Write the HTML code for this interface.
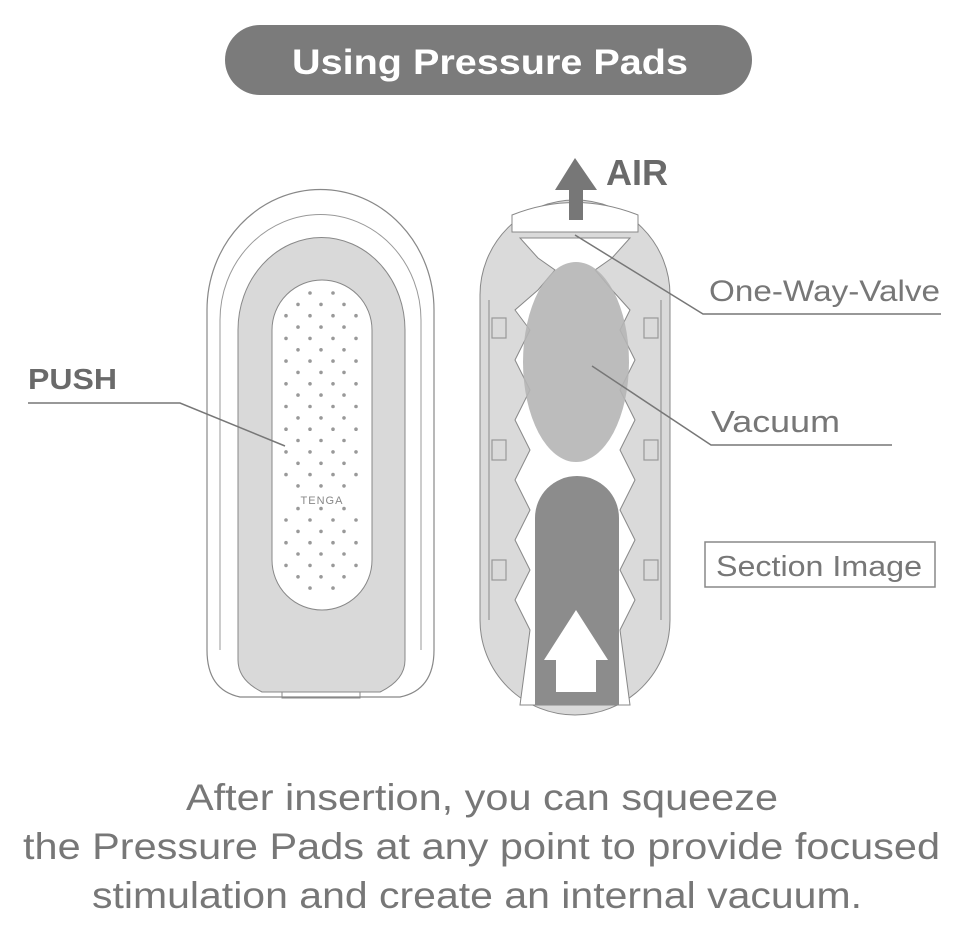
<!DOCTYPE html>
<html><head><meta charset="utf-8"><style>
html,body{margin:0;padding:0;background:#fff;width:966px;height:936px;overflow:hidden}
svg{display:block}
text{font-family:"Liberation Sans",sans-serif}
</style></head><body>
<svg id="s" width="966" height="936" viewBox="0 0 966 936" xmlns="http://www.w3.org/2000/svg">
<rect x="225" y="25" width="527" height="70" rx="35" fill="#7b7b7b"/>
<text x="292" y="74" font-size="35" font-weight="bold" fill="#fff" textLength="396" lengthAdjust="spacingAndGlyphs">Using Pressure Pads</text>

<!-- left device -->
<path d="M207,310 A113,120 0 0 1 434,310 L434,650 Q434,690 400,697 L240,697 Q207,690 207,650 Z" fill="#fff" stroke="#888" stroke-width="1.2"/>
<path d="M220,320 A100,105 0 0 1 421,320 L421,650" fill="none" stroke="#999" stroke-width="1"/>
<path d="M220,320 L220,650" fill="none" stroke="#999" stroke-width="1"/>
<path d="M238,330 A83,92 0 0 1 405,330 L405,660 Q405,680 380,692 L262,692 Q238,680 238,660 Z" fill="#d9d9d9" stroke="#888" stroke-width="1"/>
<path d="M282,692 L282,698 L360,698 L360,692" fill="none" stroke="#888"/>
<rect x="272" y="280" width="100" height="330" rx="50" fill="#fff" stroke="#888" stroke-width="1"/>
<g id="dots" fill="#999"></g>
<text x="322" y="504" text-anchor="middle" font-size="11" fill="#888" letter-spacing="1">TENGA</text>

<!-- PUSH -->
<text x="28" y="389" font-size="29" font-weight="bold" fill="#6a6a6a" textLength="89" lengthAdjust="spacingAndGlyphs">PUSH</text>
<polyline points="28,403 180,403 285,446" fill="none" stroke="#777" stroke-width="1.5"/>

<!-- right section -->
<path d="M480,295 A95,95 0 0 1 670,295 L670,620 A95,95 0 0 1 480,620 Z" fill="#dadada" stroke="#888" stroke-width="1"/>
<path d="M512,215 Q575,190 638,215 L638,232 L512,232 Z" fill="#fff" stroke="#888"/>
<path d="M520,238 L630,238 L612,258 L595,270 L612,290 L630,310 L620,330 L635,360 L620,390 L635,420 L620,450 L635,480 L620,510 L635,540 L620,570 L635,600 L620,630 L630,705 L520,705 L530,630 L515,600 L530,570 L515,540 L530,510 L515,480 L530,450 L515,420 L530,390 L515,360 L530,330 L515,310 L538,290 L555,270 L538,258 Z" fill="#fff" stroke="#888"/>
<ellipse cx="576" cy="362" rx="53" ry="100" fill="#b5b5b5" opacity="0.9"/>
<path d="M535,705 L535,518 A42,42 0 0 1 619,518 L619,705 Z" fill="#8c8c8c"/>
<path d="M576,610 L608,660 L596,660 L596,692 L556,692 L556,660 L544,660 Z" fill="#fff"/>
<g fill="none" stroke="#999" stroke-width="1.2">
<line x1="489" y1="300" x2="489" y2="620"/><line x1="661" y1="300" x2="661" y2="620"/>
<rect x="492" y="318" width="14" height="20"/><rect x="492" y="440" width="14" height="20"/><rect x="492" y="560" width="14" height="20"/>
<rect x="644" y="318" width="14" height="20"/><rect x="644" y="440" width="14" height="20"/><rect x="644" y="560" width="14" height="20"/>
</g>
<!-- AIR arrow -->
<path d="M575,158 L597,190 L583,190 L583,220 L569,220 L569,190 L555,190 Z" fill="#777"/>
<text x="606" y="185" font-size="36" font-weight="bold" fill="#6a6a6a">AIR</text>

<!-- labels -->
<polyline points="575,235 703,314 941,314" fill="none" stroke="#777" stroke-width="1.5"/>
<text x="709" y="301" font-size="30" fill="#777" textLength="231" lengthAdjust="spacingAndGlyphs">One-Way-Valve</text>
<polyline points="592,366 711,445 892,445" fill="none" stroke="#777" stroke-width="1.5"/>
<text x="711" y="432" font-size="31" fill="#777" textLength="129" lengthAdjust="spacingAndGlyphs">Vacuum</text>
<rect x="705" y="542" width="230" height="45" fill="#fff" stroke="#888" stroke-width="1.5"/>
<text x="716" y="576" font-size="29" fill="#777" textLength="206" lengthAdjust="spacingAndGlyphs">Section Image</text>

<!-- bottom -->
<g font-size="37" fill="#777">
<text x="186" y="810" textLength="592" lengthAdjust="spacingAndGlyphs">After insertion, you can squeeze</text>
<text x="23" y="859" textLength="917" lengthAdjust="spacingAndGlyphs">the Pressure Pads at any point to provide focused</text>
<text x="92" y="908" textLength="770" lengthAdjust="spacingAndGlyphs">stimulation and create an internal vacuum.</text>
</g>
</svg>
<script>
var g=document.getElementById('dots'),h='';
var A=[286,310,333,356],B=[298,321,344];
for(var i=0;i<27;i++){var y=293+i*11.35;var xs;
if(i==0||i==26)xs=[310,333];else xs=(i%2==1)?B:A;
if(y>490&&y<508)continue;
xs.forEach(function(x){h+='<circle cx="'+x+'" cy="'+y.toFixed(1)+'" r="1.8"/>';});}
g.innerHTML=h;
</script>
</body></html>
